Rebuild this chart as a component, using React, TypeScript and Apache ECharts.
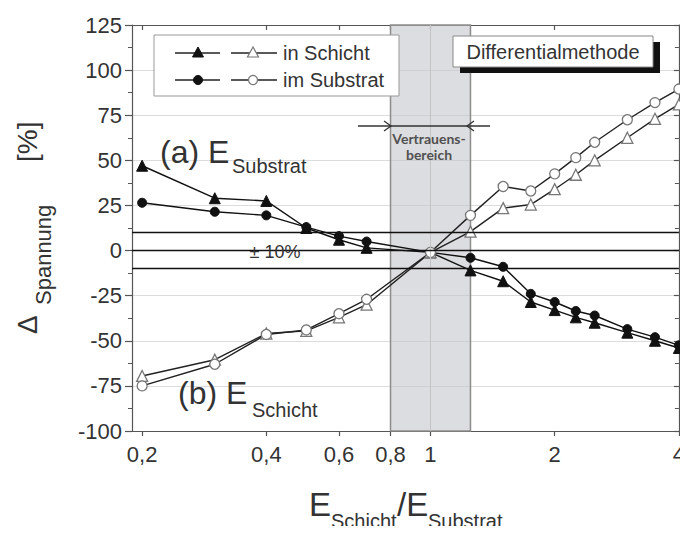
import React, { useEffect, useRef } from 'react';
import * as echarts from 'echarts';

// ---- data ----
const xValues = [0.2, 0.3, 0.4, 0.5, 0.6, 0.7, 1, 1.25, 1.5, 1.75, 2, 2.25, 2.5, 3, 3.5, 4];
// (a) E_Substrat
const aInSchicht = [47, 29, 27.5, 12.5, 6, 1.5, -1, -11, -17, -28.5, -33, -37, -40, -45.5, -50, -54];
const aImSubstrat = [26.5, 21.5, 19.5, 13, 8, 5, -1, -4, -9, -24, -28.5, -33.5, -36, -43.5, -48, -52.5];
// (b) E_Schicht
const bInSchicht = [-69.5, -60.5, -46, -44.5, -37, -30, -1, 10.5, 23.5, 25.5, 34, 42, 50, 62.5, 73, 81];
const bImSubstrat = [-75, -63, -46.5, -44, -35, -27, -1, 19.5, 35.5, 33, 42.5, 51.5, 60, 72.5, 82, 89.5];

const xTickValues = [0.2, 0.4, 0.6, 0.8, 1, 2, 4];
const xMin = 0.189;
const xMax = 4;
const yMin = -100;
const yMax = 125;
const yStep = 25;
const bandRange = [0.8, 1.25];
const toleranceLines = [10, 0, -10];
const centerLine = 1;

const FONT = '"Liberation Sans", Arial, Helvetica, sans-serif';
const AXIS_COLOR = '#555';
const TEXT_COLOR = '#333';

const pairs = (ys: number[]) => xValues.map((x, i) => [x, ys[i]]);
const fmtX = (v: number) => String(Math.round(v * 10) / 10).replace('.', ',');

const tri = (cx: number, cy: number, filled: boolean) => ({
  type: 'polygon',
  shape: { points: [[cx, cy - 6], [cx - 5.5, cy + 4], [cx + 5.5, cy + 4]] },
  style: filled ? { fill: '#111', stroke: '#111', lineWidth: 1 } : { fill: '#fff', stroke: '#777', lineWidth: 1.2 },
  z: 101,
});
const circ = (cx: number, cy: number, filled: boolean) => ({
  type: 'circle',
  shape: { cx, cy, r: 4.5 },
  style: filled ? { fill: '#111', stroke: '#111', lineWidth: 1 } : { fill: '#fff', stroke: '#777', lineWidth: 1.2 },
  z: 101,
});
const seg = (x1: number, x2: number, y: number) => ({
  type: 'line',
  shape: { x1, y1: y, x2, y2: y },
  style: { stroke: '#222', lineWidth: 1.4 },
  z: 100,
});
const txt = (text: string, x: number, y: number, fontSize: number, extra: any = {}) => ({
  type: 'text',
  x,
  y,
  z: 102,
  style: {
    text,
    fontSize,
    fontFamily: FONT,
    fill: TEXT_COLOR,
    verticalAlign: 'middle',
    align: 'left',
    ...extra,
  },
});

export default function App() {
  const ref = useRef<HTMLDivElement>(null);

  useEffect(() => {
    if (!ref.current) return;
    const chart = echarts.init(ref.current, null, { renderer: 'svg' });

    const filledStyle = (symbol: string, size: number) => ({
      type: 'line',
      symbol,
      symbolSize: size,
      z: 3,
      lineStyle: { color: '#111', width: 1.4 },
      itemStyle: { color: '#111', borderColor: '#111', borderWidth: 1 },
    });
    const openStyle = (symbol: string, size: number) => ({
      type: 'line',
      symbol,
      symbolSize: size,
      z: 4,
      lineStyle: { color: '#222', width: 1.4 },
      itemStyle: { color: '#fff', borderColor: '#777', borderWidth: 1.3 },
    });

    const boldSmall = { align: 'center', fontFamily: 'Lato, "Open Sans", sans-serif', fontWeight: 'bold', fill: '#505050' };

    const option: any = {
      animation: false,
      textStyle: { fontFamily: FONT },
      grid: { left: 132, right: 9, top: 25, bottom: 103, containLabel: false },
      xAxis: [
        {
          type: 'log',
          logBase: 10,
          min: xMin,
          max: xMax,
          position: 'bottom',
          axisLine: { show: true, onZero: false, lineStyle: { color: AXIS_COLOR, width: 1.2 } },
          axisTick: { show: true, customValues: xTickValues, length: 5, lineStyle: { color: AXIS_COLOR, width: 1.2 } },
          minorTick: { show: false },
          axisLabel: {
            customValues: xTickValues,
            formatter: (v: number) => fmtX(v),
            fontSize: 22,
            color: TEXT_COLOR,
            fontFamily: FONT,
            margin: 12,
          },
          splitLine: { show: false },
        },
        {
          type: 'log',
          logBase: 10,
          min: xMin,
          max: xMax,
          position: 'top',
          axisLine: { show: true, onZero: false, lineStyle: { color: AXIS_COLOR, width: 1.2 } },
          axisTick: { show: true, inside: true, customValues: xTickValues, length: 5, lineStyle: { color: AXIS_COLOR, width: 1.2 } },
          minorTick: { show: false },
          axisLabel: { show: false, customValues: xTickValues },
          splitLine: { show: false },
        },
      ],
      yAxis: [
        {
          type: 'value',
          min: yMin,
          max: yMax,
          interval: yStep,
          axisLine: { show: true, onZero: false, lineStyle: { color: AXIS_COLOR, width: 1.2 } },
          axisTick: { show: true, length: 7, lineStyle: { color: AXIS_COLOR, width: 1.2 } },
          minorTick: { show: true, splitNumber: 2, length: 4, lineStyle: { color: AXIS_COLOR, width: 1 } },
          axisLabel: { fontSize: 22, color: TEXT_COLOR, fontFamily: FONT, margin: 10 },
          splitLine: { show: true, lineStyle: { color: '#dcdcdc', width: 1 } },
        },
        {
          type: 'value',
          min: yMin,
          max: yMax,
          interval: yStep,
          position: 'right',
          axisLine: { show: true, onZero: false, lineStyle: { color: AXIS_COLOR, width: 1.2 } },
          axisTick: { show: true, inside: true, length: 5, lineStyle: { color: AXIS_COLOR, width: 1.2 } },
          minorTick: { show: true, splitNumber: 2, length: 4, lineStyle: { color: AXIS_COLOR, width: 1 } },
          axisLabel: { show: false },
          splitLine: { show: false },
        },
      ],
      series: [
        {
          type: 'line',
          name: 'Vertrauensbereich',
          data: [],
          z: 1,
          silent: true,
          markArea: {
            silent: true,
            itemStyle: { color: 'rgba(196,198,204,0.6)', borderColor: '#8c8c8c', borderWidth: 1.5 },
            label: { show: false },
            data: [[{ xAxis: bandRange[0] }, { xAxis: bandRange[1] }]],
          },
          markLine: {
            silent: true,
            symbol: ['none', 'none'],
            label: { show: false },
            data: [
              { xAxis: centerLine, lineStyle: { color: '#c4c4c4', width: 1, type: 'solid' } },
              ...toleranceLines.map((v) => ({ yAxis: v, lineStyle: { color: '#111', width: 1.3, type: 'solid' } })),
            ],
          },
        },
        { name: '(a) in Schicht', data: pairs(aInSchicht), ...filledStyle('triangle', 11) },
        { name: '(a) im Substrat', data: pairs(aImSubstrat), ...filledStyle('circle', 9) },
        { name: '(b) in Schicht', data: pairs(bInSchicht), ...openStyle('triangle', 11) },
        { name: '(b) im Substrat', data: pairs(bImSubstrat), ...openStyle('circle', 10) },
      ],
      graphic: [
        // legend box
        {
          type: 'rect',
          shape: { x: 154, y: 35, width: 245, height: 61 },
          style: { fill: '#fff', stroke: '#999', lineWidth: 1 },
          z: 99,
        },
        seg(175, 220, 53), tri(198, 53, true),
        seg(231, 277, 53), tri(253, 53, false),
        txt('in Schicht', 283, 53, 20),
        seg(175, 220, 80), circ(198, 80, true),
        seg(231, 277, 80), circ(253, 80, false),
        txt('im Substrat', 283, 80, 20),
        // method box with shadow
        {
          type: 'rect',
          shape: { x: 460, y: 42, width: 200, height: 31 },
          style: { fill: '#111' },
          z: 99,
        },
        {
          type: 'rect',
          shape: { x: 453, y: 36, width: 200, height: 31 },
          style: { fill: '#fff', stroke: '#888', lineWidth: 1 },
          z: 100,
        },
        txt('Differentialmethode', 553, 51.5, 20, { align: 'center' }),
        // annotations
        txt('(a) E', 160, 152, 32),
        txt('Substrat', 232, 166, 20),
        txt('(b) E', 178, 393, 32),
        txt('Schicht', 252, 410, 20),
        txt('± 10%', 275, 252, 18, { align: 'center' }),
        // confidence range arrows
        {
          type: 'line',
          shape: { x1: 358, y1: 126, x2: 490, y2: 126 },
          style: { stroke: '#333', lineWidth: 1.3 },
          z: 100,
        },
        {
          type: 'polyline',
          shape: { points: [[384, 121], [391, 126], [384, 131]] },
          style: { stroke: '#333', lineWidth: 1.3, fill: 'none' },
          z: 100,
        },
        {
          type: 'polyline',
          shape: { points: [[474, 121], [467, 126], [474, 131]] },
          style: { stroke: '#333', lineWidth: 1.3, fill: 'none' },
          z: 100,
        },
        txt('Vertrauens-', 429, 138, 14, boldSmall),
        txt('bereich', 429, 154, 14, boldSmall),
        // y-axis title (rotated)
        {
          type: 'group',
          x: 37,
          y: 334,
          rotation: Math.PI / 2,
          z: 102,
          children: [
            txt('Δ', 0, -9.7, 28),
            txt('Spannung', 29, 6, 22),
            txt('[%]', 172, -9.7, 28),
          ],
        },
        // x-axis title
        txt('E', 309, 504, 33),
        txt('Schicht', 331, 521, 20),
        txt('/E', 397, 504, 33),
        txt('Substrat', 428, 521, 20),
      ],
    };

    chart.setOption(option);
    return () => chart.dispose();
  }, []);

  return <div ref={ref} style={{ width: 688, height: 534, margin: -8 }} />;
}
